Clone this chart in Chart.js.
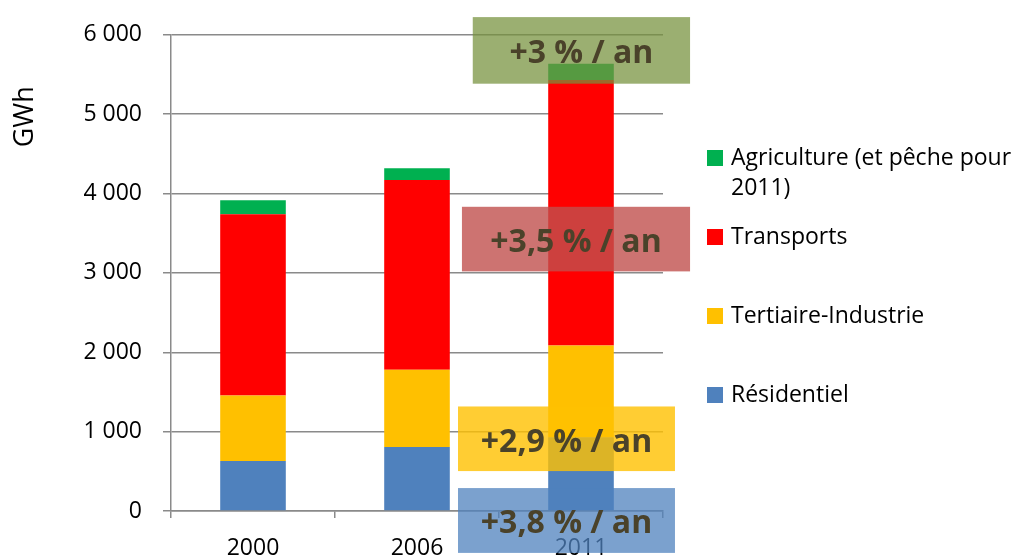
<!DOCTYPE html>
<html>
<head>
<meta charset="utf-8">
<script src="https://cdn.jsdelivr.net/npm/chart.js@4/dist/chart.umd.min.js"></script>
<style>
  html, body { margin: 0; padding: 0; background: #fff; }
  #wrap { width: 1023px; height: 555px; position: relative; }
</style>
</head>
<body>
<div id="wrap"><canvas id="myChart"></canvas></div>
<script>
// data (GWh)
const years = ['2000', '2006', '2011'];
const residentiel = [630, 805, 930];
const tertiaire = [825, 975, 1155];
const transports = [2285, 2390, 3345];
const agriculture = [175, 150, 205];

const seriesNames = ['Résidentiel', 'Tertiaire-Industrie', 'Transports', 'Agriculture (et pêche pour 2011)'];
const growthTexts = ['+3 % / an', '+3,5 % / an', '+2,9 % / an', '+3,8 % / an'];

const FONT = "'Open Sans', sans-serif";
const gridGray = '#8a8a8a';

// growth boxes, placed in axis units (category index / GWh)
const growthBoxes = [
  { x0: 1.34, x1: 2.665, y0: 5384, y1: 6223, fill: 'rgba(118,146,60,0.73)' },
  { x0: 1.274, x1: 2.665, y0: 3019, y1: 3833, fill: 'rgba(192,80,77,0.8)' },
  { x0: 1.25, x1: 2.573, y0: 503, y1: 1317, fill: 'rgba(255,192,0,0.8)' },
  { x0: 1.25, x1: 2.573, y0: -528, y1: 289, fill: 'rgba(79,129,189,0.75)' }
];

const growthPlugin = {
  id: 'growth',
  afterDraw(chart) {
    const ctx = chart.ctx;
    const xs = chart.scales.x, ys = chart.scales.y;
    ctx.save();
    growthBoxes.forEach((b, i) => {
      const left = xs.getPixelForValue(b.x0), right = xs.getPixelForValue(b.x1);
      const top = ys.getPixelForValue(b.y1), bottom = ys.getPixelForValue(b.y0);
      ctx.fillStyle = b.fill;
      ctx.fillRect(left, top, right - left, bottom - top);
      ctx.fillStyle = '#4a422a';
      ctx.font = 'bold 32px ' + FONT;
      ctx.textAlign = 'center';
      ctx.textBaseline = 'alphabetic';
      ctx.fillText(growthTexts[i], (left + right) / 2, (top + bottom) / 2 + 13);
    });
    ctx.restore();
  }
};

// legend on the right, top item first
const legendPlugin = {
  id: 'sideLegend',
  afterDraw(chart) {
    const ctx = chart.ctx;
    const area = chart.chartArea;
    const x = area.right + 44;
    let y = 158;
    ctx.save();
    ctx.font = '23px ' + FONT;
    ctx.textBaseline = 'middle';
    ctx.textAlign = 'left';
    const items = chart.data.datasets.slice().reverse();
    items.forEach(ds => {
      ctx.fillStyle = ds.backgroundColor;
      ctx.fillRect(x, y - 8, 16, 16);
      // wrap long labels
      const words = ds.label.split(' ');
      const lines = [];
      let line = '';
      words.forEach(w => {
        const test = line ? line + ' ' + w : w;
        if (ctx.measureText(test).width > 1023 - x - 26 && line) {
          lines.push(line);
          line = w;
        } else {
          line = test;
        }
      });
      lines.push(line);
      ctx.fillStyle = '#000';
      lines.forEach((l, k) => ctx.fillText(l, x + 24, y + k * 30));
      y += 79;
    });
    ctx.restore();
  }
};

const titlePlugin = {
  id: 'yTitle',
  afterDraw(chart) {
    const ctx = chart.ctx;
    ctx.save();
    ctx.translate(25, chart.chartArea.top + 82);
    ctx.rotate(-Math.PI / 2);
    ctx.font = '27px ' + FONT;
    ctx.fillStyle = '#000';
    ctx.textAlign = 'center';
    ctx.textBaseline = 'middle';
    ctx.fillText('GWh', 0, 0);
    ctx.restore();
  }
};

const colors = ['#4f81bd', '#ffc000', '#ff0000', '#00b050'];
const values = [residentiel, tertiaire, transports, agriculture];

new Chart(document.getElementById('myChart'), {
  type: 'bar',
  data: {
    labels: years,
    datasets: values.map((v, i) => ({
      label: seriesNames[i],
      data: v,
      backgroundColor: colors[i],
      borderWidth: 0,
      categoryPercentage: 1,
      barPercentage: 0.4
    }))
  },
  options: {
    responsive: true,
    maintainAspectRatio: false,
    animation: false,
    layout: { padding: { top: 34, right: 360, left: 0, bottom: 0 } },
    plugins: {
      legend: { display: false },
      tooltip: { enabled: false }
    },
    scales: {
      x: {
        stacked: true,
        afterFit: s => { s.height = 44; },
        grid: { drawOnChartArea: false, drawTicks: true, tickLength: 7, color: gridGray, lineWidth: 1.5 },
        border: { color: gridGray, width: 1.5 },
        ticks: { color: '#000', font: { family: FONT, size: 23 }, padding: 17 }
      },
      y: {
        stacked: true,
        min: 0,
        max: 6000,
        afterFit: s => { s.width = 171; },
        grid: { color: gridGray, lineWidth: 1.5, tickLength: 8 },
        border: { color: gridGray, width: 1.5 },
        ticks: {
          stepSize: 1000,
          color: '#000',
          padding: 21,
          font: { family: FONT, size: 23 },
          callback: v => v >= 1000 ? Math.floor(v / 1000) + ' ' + String(v % 1000).padStart(3, '0') : String(v)
        }
      }
    }
  },
  plugins: [growthPlugin, legendPlugin, titlePlugin]
});
</script>
</body>
</html>
